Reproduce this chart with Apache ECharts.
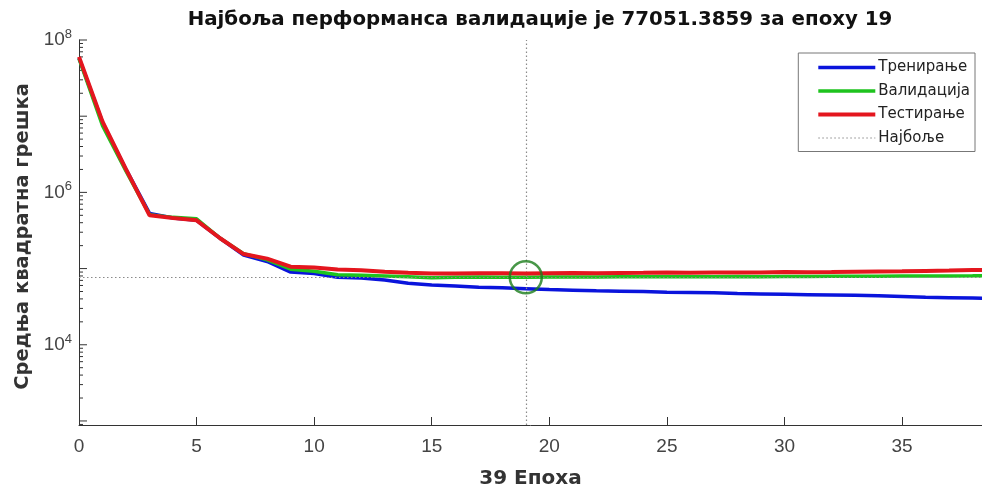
<!DOCTYPE html>
<html>
<head>
<meta charset="UTF-8">
<title>perf</title>
<script src="https://cdn.jsdelivr.net/npm/echarts@6/dist/echarts.min.js"></script>
<style>
  html, body { margin: 0; padding: 0; background: #fff; }
  #chart { width: 982px; height: 489px; }
</style>
</head>
<body>
<div id="chart"></div>
<script>
// epochs 0..39
var epochs = [];
for (var i = 0; i <= 39; i++) epochs.push(i);

var train = [5.8e7, 8.3e6, 2.0e6, 5.3e5, 4.6e5, 4.3e5, 2.5e5, 1.5e5, 1.24e5, 9.0e4,
             8.6e4, 7.7e4, 7.5e4, 7.1e4, 6.4e4, 6.1e4, 5.9e4, 5.7e4, 5.6e4, 5.45e4,
             5.3e4, 5.2e4, 5.1e4, 5.05e4, 5.0e4, 4.9e4, 4.85e4, 4.8e4, 4.7e4, 4.65e4,
             4.6e4, 4.55e4, 4.5e4, 4.45e4, 4.4e4, 4.3e4, 4.2e4, 4.15e4, 4.1e4, 4.05e4];
var valid = [5.7e7, 7.5e6, 1.9e6, 5.1e5, 4.7e5, 4.5e5, 2.5e5, 1.57e5, 1.3e5, 9.8e4,
             9.2e4, 8.3e4, 8.2e4, 8.0e4, 7.8e4, 7.6e4, 7.7e4, 7.75e4, 7.7e4, 77051.3859,
             7.75e4, 7.78e4, 7.76e4, 7.79e4, 7.8e4, 7.82e4, 7.8e4, 7.83e4, 7.85e4, 7.84e4,
             7.86e4, 7.88e4, 7.9e4, 7.92e4, 7.95e4, 7.98e4, 8.0e4, 8.02e4, 8.05e4, 8.1e4];
var test  = [6.0e7, 8.5e6, 2.0e6, 5.0e5, 4.6e5, 4.3e5, 2.5e5, 1.55e5, 1.35e5, 1.06e5,
             1.03e5, 9.7e4, 9.5e4, 9.1e4, 8.8e4, 8.6e4, 8.6e4, 8.7e4, 8.7e4, 8.6e4,
             8.7e4, 8.75e4, 8.7e4, 8.75e4, 8.8e4, 8.9e4, 8.8e4, 8.85e4, 8.9e4, 8.85e4,
             9.0e4, 8.95e4, 9.0e4, 9.1e4, 9.15e4, 9.2e4, 9.3e4, 9.4e4, 9.55e4, 9.7e4];
var bestEpoch = 19;
var bestPerf = 77051.3859;
var seriesNames = ['Тренирање', 'Валидација', 'Тестирање', 'Најбоље'];
var xTickLabels = [0, 5, 10, 15, 20, 25, 30, 35];

// log-axis tick positions (1..9 x 10^n)
var yTicks = [];
for (var e = 2; e <= 7; e++) {
  for (var k = 1; k <= 9; k++) {
    var v = k * Math.pow(10, e);
    if (v >= 885 && v <= 1e8) yTicks.push(v);
  }
}
yTicks.push(1e8);

function pairs(arr) {
  return arr.map(function (v, i) { return [epochs[i], v]; });
}

var font = 'Liberation Sans';
var wide = 'DejaVu Sans';
var chart = echarts.init(document.getElementById('chart'));
chart.setOption({
  animation: false,
  backgroundColor: '#fff',
  textStyle: { fontFamily: font },
  title: {
    text: 'Најбоља перформанса валидације је ' + bestPerf + ' за епоху ' + bestEpoch,
    left: 535,
    textAlign: 'center',
    top: 5,
    textStyle: { fontFamily: wide, fontSize: 19.8, fontWeight: 'bold', color: '#111' }
  },
  legend: {
    data: seriesNames,
    orient: 'vertical',
    right: 7,
    top: 53,
    itemWidth: 57,
    itemHeight: 14,
    itemGap: 8.5,
    padding: [7, 5, 6, 18],
    backgroundColor: '#fff',
    borderColor: '#777',
    borderWidth: 1,
    borderRadius: 0,
    itemStyle: { opacity: 0 },
    lineStyle: { width: 'inherit' },
    textStyle: { fontFamily: wide, fontSize: 15, color: '#222', padding: [0, 0, 0, -2] }
  },
  grid: { left: 79, right: 0, top: 40, bottom: 64, outerBoundsMode: 'none', containLabel: false },
  xAxis: {
    type: 'value',
    min: 0,
    max: 38.4,
    name: epochs.length - 1 + ' Епоха',
    nameLocation: 'middle',
    nameGap: 44,
    nameTextStyle: { fontFamily: wide, fontSize: 20, fontWeight: 'bold', color: '#333' },
    axisLine: { lineStyle: { color: '#333', width: 1 } },
    axisTick: { inside: true, length: 8, lineStyle: { color: '#333' }, customValues: xTickLabels.slice(1) },
    axisLabel: { fontFamily: font, fontSize: 19, color: '#444', margin: 12, customValues: xTickLabels },
    splitLine: { show: false }
  },
  yAxis: {
    type: 'log',
    logBase: 10,
    min: 885,
    max: 1e8,
    name: 'Средња квадратна грешка',
    nameLocation: 'middle',
    nameGap: 45,
    nameTextStyle: { fontFamily: wide, fontSize: 19.5, fontWeight: 'bold', color: '#333', padding: [0, 0, 0, -8] },
    axisLine: { show: true, lineStyle: { color: '#333', width: 1 } },
    axisTick: { show: false },
    axisLabel: {
      margin: 7,
      formatter: function (v) {
        var e = Math.round(Math.log10(v));
        if (Math.abs(Math.log10(v) - e) > 1e-6 || e % 2 !== 0 || e < 4) return '';
        return '{b|10}{s|' + e + '}';
      },
      rich: {
        b: { fontSize: 19, color: '#444', fontFamily: font },
        s: { fontSize: 13, color: '#444', fontFamily: font, verticalAlign: 'top', padding: [0, 0, 11, 0] }
      }
    },
    splitLine: { show: false }
  },
  series: [
    {
      name: 'Тренирање', type: 'line', data: pairs(train), symbol: 'none',
      lineStyle: { color: '#0a14dc', width: 3.5 }, itemStyle: { color: '#0a14dc' }, z: 3
    },
    {
      name: 'Валидација', type: 'line', data: pairs(valid), symbol: 'none',
      lineStyle: { color: '#1ec31e', width: 3.5 }, itemStyle: { color: '#1ec31e' }, z: 4
    },
    {
      name: 'Тестирање', type: 'line', data: pairs(test), symbol: 'none',
      lineStyle: { color: '#e4161e', width: 4 }, itemStyle: { color: '#e4161e' }, z: 5
    },
    {
      name: 'Најбоље', type: 'line', data: [], symbol: 'none',
      lineStyle: { color: '#8a8a8a', width: 1.2, type: [1.5, 2.5] }, itemStyle: { color: '#8a8a8a' },
      markLine: {
        silent: true, symbol: 'none', label: { show: false },
        lineStyle: { color: '#8a8a8a', width: 1.2, type: [1.5, 2.5] },
        data: [{ xAxis: bestEpoch }, { yAxis: bestPerf }]
      },
      z: 2
    },
    {
      name: 'best-circle', type: 'scatter', data: [[bestEpoch, bestPerf]],
      symbol: 'circle', symbolSize: 32, silent: true,
      itemStyle: { color: 'rgba(0,0,0,0)', borderColor: '#1a7d1a', borderWidth: 2.5 }, z: 6
    },
    {
      name: 'ticks', type: 'custom', silent: true,
      data: yTicks.map(function (v) { return [0, v]; }),
      renderItem: function (params, api) {
        var v = api.value(1);
        var p = api.coord([0, v]);
        var lg = Math.log10(v);
        var major = Math.abs(lg - Math.round(lg)) < 1e-9;
        return {
          type: 'line',
          shape: { x1: p[0], y1: p[1], x2: p[0] + (major ? 8 : 4), y2: p[1] },
          style: { stroke: '#333', lineWidth: 1 }
        };
      },
      z: 1
    }
  ]
});
</script>
</body>
</html>
